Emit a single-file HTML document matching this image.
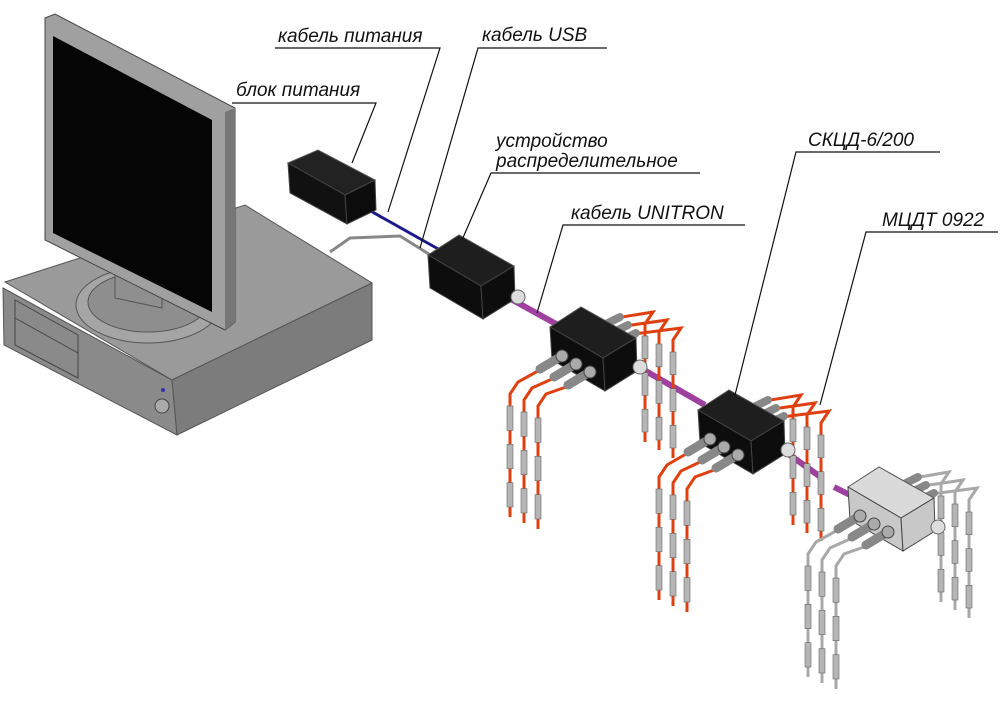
<!DOCTYPE html>
<html><head><meta charset="utf-8"><style>
html,body{margin:0;padding:0;background:#fff;}
svg{display:block;}
text{font-family:"Liberation Sans",sans-serif;font-style:italic;font-size:19px;fill:#111;}
</style></head><body>
<svg id="s" width="1000" height="707" viewBox="0 0 1000 707" xmlns="http://www.w3.org/2000/svg">
<!-- PC case -->
<polygon points="5,282 245,205 372,283 172,380" fill="#9a9a9a" stroke="#555" stroke-width="1"/>
<polygon points="3,288 172,380 177,435 4,345" fill="#8a8a8a" stroke="#555"/>
<polygon points="172,380 372,283 372,340 177,435" fill="#7c7c7c" stroke="#555"/>
<polygon points="15,300 78,335 78,378 15,345" fill="none" stroke="#444"/>
<line x1="15" y1="318" x2="78" y2="353" stroke="#444"/>
<circle cx="162" cy="406" r="7" fill="#aaa" stroke="#444"/>
<circle cx="163" cy="390" r="2" fill="#33a"/>
<!-- monitor stand -->
<ellipse cx="148" cy="305" rx="72" ry="38" fill="#a5a5a5" stroke="#555"/>
<ellipse cx="148" cy="302" rx="60" ry="30" fill="#8e8e8e" stroke="#555"/>
<polygon points="115,255 162,265 162,308 115,298" fill="#8f8f8f" stroke="#555"/>
<!-- monitor -->
<polygon points="45,18 55,14 235,108 235,322 225,330 45,240" fill="#a0a0a0" stroke="#444"/>
<polygon points="225,112 235,108 235,322 225,330" fill="#777"/>
<polygon points="53,36 212,120 212,312 53,233" fill="#050505"/>
<!-- cables to devices -->
<polyline points="330,252 350,238 400,236 432,256" fill="none" stroke="#888" stroke-width="3"/>
<line x1="360" y1="205" x2="440" y2="250" stroke="#1a1a8a" stroke-width="3"/>
<line x1="500" y1="293" x2="558" y2="325" stroke="#a040a0" stroke-width="6"/>
<line x1="630" y1="362" x2="705" y2="405" stroke="#a040a0" stroke-width="6"/>
<line x1="780" y1="448" x2="822" y2="478" stroke="#a040a0" stroke-width="6"/>
<line x1="834" y1="487" x2="850" y2="495" stroke="#a040a0" stroke-width="6"/>
<!-- power block -->
<polygon points="288,163 318,150 375,180 345,195" fill="#222" stroke="#555"/>
<polygon points="288,163 345,195 347,224 290,193" fill="#111" stroke="#444"/>
<polygon points="345,195 375,180 376,210 347,224" fill="#0c0c0c" stroke="#444"/>
<g id="probes"></g>
<g id="boxes"></g>
<!-- leaders -->
<g stroke="#111" stroke-width="1.2" fill="none">
<polyline points="275,48 440,48 388,212"/>
<polyline points="607,48 478,48 420,248"/>
<polyline points="232,103 376,103 352,163"/>
<polyline points="700,173 491,173 462,240"/>
<polyline points="745,225 563,225 537,313"/>
<polyline points="940,152 796,152 735,395"/>
<polyline points="998,232 866,232 820,405"/>
</g>
<text x="278" y="42">кабель питания</text>
<text x="482" y="41">кабель USB</text>
<text x="236" y="96">блок питания</text>
<text x="496" y="147">устройство</text>
<text x="496" y="167">распределительное</text>
<text x="571" y="219">кабель UNITRON</text>
<text x="808" y="146">СКЦД-6/200</text>
<text x="882" y="226">МЦДТ 0922</text>
</svg>
<script>
var NS="http://www.w3.org/2000/svg";
function el(p,t,a){var e=document.createElementNS(NS,t);for(var k in a)e.setAttribute(k,a[k]);p.appendChild(e);return e;}
var P=document.getElementById('probes'),B=document.getElementById('boxes');
var H=33;
function probe(x,y0,y1,col,bx,by){
  el(P,'polyline',{points:bx+','+by+' '+(x+8)+','+(y0-20)+' '+x+','+(y0-8)+' '+x+','+y1,fill:'none',stroke:col,'stroke-width':3});
  var L=y1-y0;
  for(var i=0;i<3;i++){var yy=y0+i*L/3+4;el(P,'rect',{x:x-3,y:yy,width:6,height:L/3-14,fill:'#b5b5b5',stroke:'#666','stroke-width':0.6});}
}
function box(ox,oy,fill,dark){
  el(B,'polygon',{points:(ox)+','+(oy)+' '+(ox+31)+','+(oy-20)+' '+(ox+86)+','+(oy+11)+' '+(ox+53)+','+(oy+31),fill:fill,stroke:'#555'});
  el(B,'polygon',{points:(ox)+','+(oy)+' '+(ox+53)+','+(oy+31)+' '+(ox+55)+','+(oy+31+H)+' '+(ox+2)+','+(oy+H),fill:dark,stroke:'#444'});
  el(B,'polygon',{points:(ox+53)+','+(oy+31)+' '+(ox+86)+','+(oy+11)+' '+(ox+87)+','+(oy+11+H)+' '+(ox+55)+','+(oy+31+H),fill:dark,stroke:'#444'});
}
function unit(ox,oy,col,fill,dark,fx,bx){
  for(var i=0;i<3;i++){probe(bx[0]+i*14,oy+5+i*8,oy+115+i*8,col,ox+60+i*8,oy-8+i*8);
    el(P,'line',{x1:ox+50+i*8,y1:oy+i*8,x2:ox+70+i*8,y2:oy-10+i*8,stroke:'#888','stroke-width':8,'stroke-linecap':'round'});}
  box(ox,oy,fill,dark);
  for(var i=0;i<3;i++){
    el(B,'line',{x1:ox+10+i*14,y1:oy+30+i*8,x2:ox-10+i*14,y2:oy+42+i*8,stroke:'#888','stroke-width':9,'stroke-linecap':'round'});
    el(B,'circle',{cx:ox+12+i*14,cy:oy+29+i*8,r:6,fill:'#aaa',stroke:'#444'});
    probe(fx[0]+i*14,oy+75+i*6,oy+190+i*6,col,ox-12+i*14,oy+44+i*8);
  }
  el(B,'circle',{cx:ox+90,cy:oy+40,r:7,fill:'#ddd',stroke:'#666'});
}
box(428,255,'#1e1e1e','#0d0d0d');
el(B,'circle',{cx:518,cy:297,r:7,fill:'#ddd',stroke:'#666'});
unit(550,327,'#e04010','#1e1e1e','#0d0d0d',[510],[645]);
unit(698,410,'#e04010','#1e1e1e','#0d0d0d',[659],[793]);
unit(848,487,'#a8a8a8','#dadada','#c8c8c8',[808],[941]);
</script>
</body></html>
